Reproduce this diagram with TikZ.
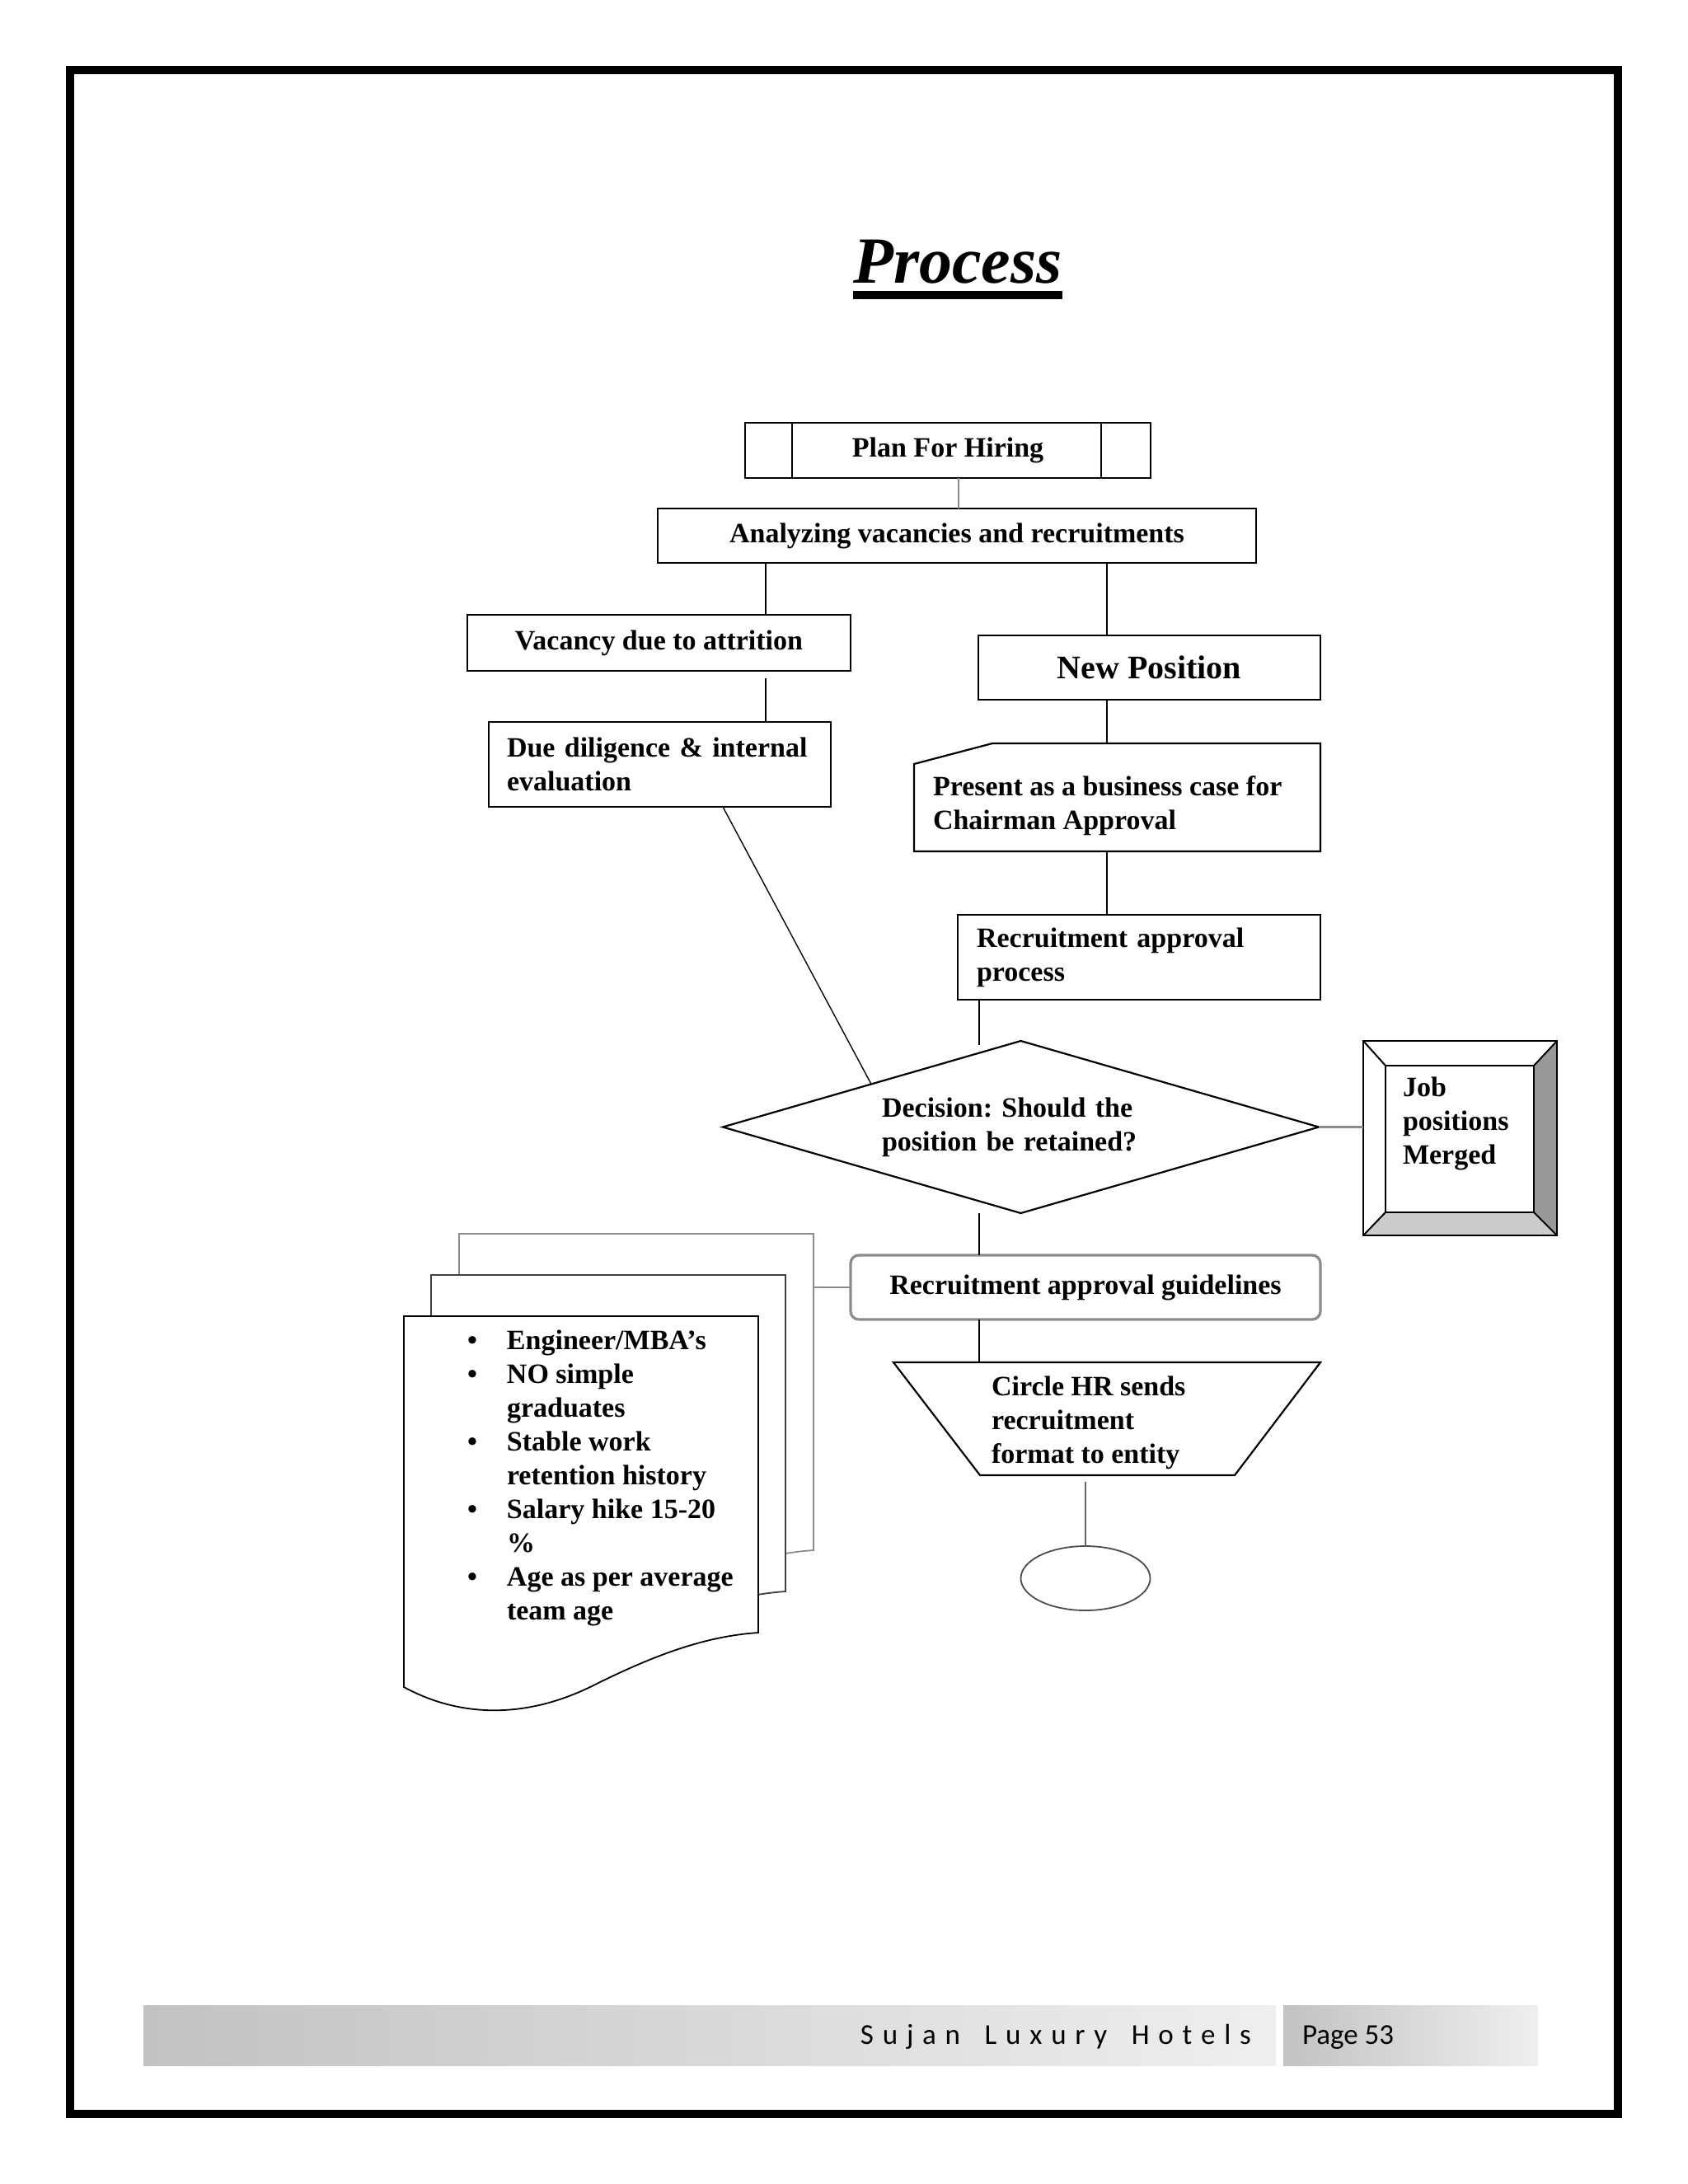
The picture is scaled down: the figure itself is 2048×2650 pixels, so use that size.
\documentclass[tikz,border=0pt]{standalone}
\usepackage{fontspec}
\setmainfont{Liberation Serif}
\newfontfamily\calib{Carlito}
\usetikzlibrary{shapes.geometric,calc}
\definecolor{bevdark}{HTML}{999999}
\definecolor{bevlight}{HTML}{CBCBCB}
\definecolor{lgray}{HTML}{8C8C8C}
\definecolor{footl}{HTML}{C2C2C2}
\definecolor{footr}{HTML}{EFEFEF}
\newcommand\ls{\kern5.4pt}
\begin{document}
\frenchspacing
\begin{tikzpicture}[x=0.5pt,y=-0.5pt,
  every node/.style={inner sep=0pt,outer sep=0pt},
  txt/.style={font=\fontsize{17}{20.5}\selectfont\bfseries},
  boxd/.style={draw,line width=1.1pt},
  conn/.style={line width=1pt},
  gline/.style={draw=lgray,line width=1.4pt},
]
\useasboundingbox (0,0) rectangle (2048,2650);
\fill[white] (0,0) rectangle (2048,2650);
\draw[line width=5pt] (85,85) rectangle (1963,2565);

% title
\node[font=\fontsize{40}{48}\selectfont\bfseries\itshape,anchor=base] (title) at (1162,343) {Process};
\draw[line width=5pt] ([yshift=-7.5pt]title.base west) -- ([yshift=-7.5pt]title.base east);

% boxes
\node[boxd,txt,minimum width=246pt,minimum height=33.5pt] (plan) at (1150,546.5) {Plan For Hiring};
\draw[line width=1.1pt] ([xshift=28.5pt]plan.north west) -- ([xshift=28.5pt]plan.south west);
\draw[line width=1.1pt] ([xshift=-30pt]plan.north east) -- ([xshift=-30pt]plan.south east);

\node[boxd,txt,minimum width=363pt,minimum height=33pt] (analyze) at (1161,650) {Analyzing vacancies and recruitments};
\node[boxd,txt,minimum width=232.5pt,minimum height=34pt] (vac) at (799.5,780) {Vacancy due to attrition};
\node[boxd,font=\fontsize{20}{24}\selectfont\bfseries,minimum width=207.5pt,minimum height=39pt] (newpos) at (1394.5,810) {New Position};
\node[boxd,txt,minimum width=207.5pt,minimum height=51.5pt,text width=185.5pt,align=left] (due) at (800.5,927.5) {Due diligence \& internal\\evaluation};

\node[minimum width=246.5pt,minimum height=65.5pt] (present) at (1355.5,967.5) {};
\draw[line width=1.1pt] ([xshift=47.5pt]present.north west) -- (present.north east) -- (present.south east) -- (present.south west) -- ([yshift=-12.5pt]present.north west) -- cycle;
\node[txt,anchor=north west,align=left] (presenttxt) at (1132,941.5) {Present as a business case for\\Chairman Approval};

\node[boxd,txt,minimum width=220pt,minimum height=51.5pt,text width=197pt,align=left] (rap) at (1382,1161.5) {Recruitment approval\\process};

\node[draw,line width=1.1pt,shape=diamond,aspect=3.46,minimum width=361.5pt,minimum height=104.5pt,txt,text width=168.5pt,align=left] (dec) at (1238.5,1367.5) {Decision: Should the\\position be retained?};

% job positions merged (bevel)
\node[minimum width=117.5pt,minimum height=118pt] (job) at (1771.5,1381) {};
\coordinate (jNW) at ([shift={(13.5pt,-15pt)}]job.north west);
\coordinate (jNE) at ([shift={(-14pt,-15pt)}]job.north east);
\coordinate (jSE) at ([shift={(-14pt,14pt)}]job.south east);
\coordinate (jSW) at ([shift={(13.5pt,14pt)}]job.south west);
\fill[bevdark] (job.north east) -- (job.south east) -- (jSE) -- (jNE) -- cycle;
\fill[bevlight] (job.south west) -- (job.south east) -- (jSE) -- (jSW) -- cycle;
\draw[line width=1pt] (job.north west) -- (jNW) (job.north east) -- (jNE) (job.south east) -- (jSE) (job.south west) -- (jSW);
\draw[line width=1.1pt] (jNW) rectangle (jSE);
\draw[line width=1.3pt] (job.north west) rectangle (job.south east);
\node[txt,anchor=north west,align=left] (jobtxt) at (1702,1307) {Job\\positions\\Merged};

\node[draw=lgray,line width=1.6pt,rounded corners=5pt,txt,minimum width=285pt,minimum height=39pt] (guide) at (1317,1562) {Recruitment approval guidelines};

\node[minimum width=259pt,minimum height=68.5pt] (trap) at (1343,1721.5) {};
\draw[line width=1.1pt] (trap.north west) -- (trap.north east) -- ([xshift=-52pt]trap.south east) -- ([xshift=52.5pt]trap.south west) -- cycle;
\node[txt,anchor=north west,align=left] (traptxt) at (1203,1670) {Circle HR sends\\recruitment\\format to entity};

\node[draw=black!70,line width=0.9pt,ellipse,minimum width=78.5pt,minimum height=39pt] (endn) at (1317,1915) {};

% document stack
\foreach \dx/\dy/\col in {67/100/black!45, 33/50/black!75, 0/0/black} {
  \filldraw[fill=white,draw=\col,line width=0.9pt,shift={(490+\dx,1597-\dy)}]
    (0,0) -- (430,0) -- (430,384) .. controls (370,388) and (310,408) .. (230,448) .. controls (150,488) and (70,488) .. (0,450) -- cycle;
}
\node[txt,anchor=north west,align=left] (doctxt) at (567,1613.5) {\makebox[24pt][l]{\textbullet}Engineer/MBA’s\\\makebox[24pt][l]{\textbullet}NO simple\\\hspace*{24pt}graduates\\\makebox[24pt][l]{\textbullet}Stable work\\\hspace*{24pt}retention history\\\makebox[24pt][l]{\textbullet}Salary hike 15-20\\\hspace*{24pt}\%\\\makebox[24pt][l]{\textbullet}Age as per average\\\hspace*{24pt}team age};

% connectors
\coordinate (c1) at ([xshift=6.5pt]plan.south);
\draw[gline,line width=1pt] (c1) -- (c1 |- analyze.north);
\coordinate (a1) at ([xshift=-116pt]analyze.south);
\draw[conn] (a1) -- (a1 |- vac.north);
\coordinate (a2) at ([xshift=91pt]analyze.south);
\draw[conn] (a2) -- (a2 |- newpos.north);
\coordinate (v1) at ([xshift=64.75pt,yshift=-4.5pt]vac.south);
\draw[conn] (v1) -- (v1 |- due.north);
\coordinate (n1) at ([xshift=-25.75pt]newpos.south);
\draw[conn] (n1) -- (n1 |- present.north);
\coordinate (p1) at ([xshift=-6.25pt]present.south);
\draw[conn] (p1) -- (p1 |- rap.north);
\coordinate (d1) at ([xshift=38.25pt]due.south);
\draw[line width=0.7pt] (d1) -- ($(dec.west)!0.498!(dec.north)$);
\coordinate (r1) at ([xshift=13pt]rap.south west);
\draw[conn] (r1) -- ($(r1 |- dec.north)+(0,5)$);
\draw[conn] (r1 |- dec.south) -- (r1 |- guide.north);
\draw[conn] (r1 |- guide.south) -- (r1 |- trap.north);
\draw[gline] (dec.east) -- (dec.east -| job.west);
\coordinate (backE) at (988,1559);
\draw[gline,line width=1pt] (guide.west) -- (guide.west -| backE);
\coordinate (t1) at ($(trap.south)+(-26,8)$);
\draw[draw=black!60,line width=0.8pt] (t1) -- (endn.north);

% footer
\shade[left color=footl,right color=footr] (174,2433) rectangle (1548,2506);
\shade[left color=footl,right color=footr] (1557,2433) rectangle (1866,2506);
\node[font=\calib\fontsize{17.5}{21}\selectfont,anchor=base east] (brand) at (1518,2480) {S\ls u\ls j\ls a\ls n\ls\ \ls L\ls u\ls x\ls u\ls r\ls y\ls\ \ls H\ls o\ls t\ls e\ls l\ls s};
\node[font=\calib\fontsize{17.5}{21}\selectfont,anchor=base west] (page) at (1580,2480) {Page 53};
\end{tikzpicture}
\end{document}
